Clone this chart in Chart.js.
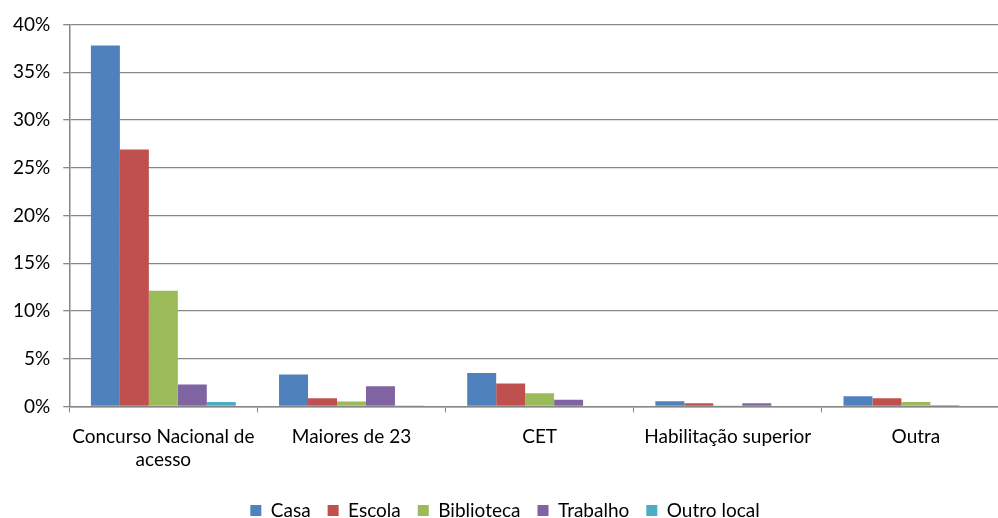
<!DOCTYPE html>
<html>
<head>
<meta charset="utf-8">
<script src="https://cdn.jsdelivr.net/npm/chart.js@4"></script>
<style>
html,body{margin:0;overflow:hidden;background:#fff;height:518px;}
#wrap{width:1012px;height:525px;}
</style>
</head>
<body>
<div id="wrap"><canvas id="mainChart" width="1012" height="525"></canvas></div>
<script>
let categories = [["Concurso Nacional de","acesso"],"Maiores de 23","CET","Habilitação superior","Outra"];
let casa = [37.8, 3.35, 3.5, 0.55, 1.05];
let escola = [26.9, 0.85, 2.4, 0.32, 0.85];
let biblioteca = [12.1, 0.52, 1.38, 0.1, 0.45];
let trabalho = [2.3, 2.1, 0.7, 0.32, 0.13];
let outroLocal = [0.45, 0.1, 0, 0, 0];
let yTicks = [0, 5, 10, 15, 20, 25, 30, 35, 40];

Chart.defaults.font.family = "Lato, 'Open Sans', sans-serif";
Chart.defaults.font.size = 19;
Chart.defaults.color = "#000";

let mainChart = new Chart(document.getElementById("mainChart"), {
type: "bar",
data: {
labels: categories,
datasets: [
{label:"Casa", data:casa, backgroundColor:"#4F81BD"},
{label:"Escola", data:escola, backgroundColor:"#C0504D"},
{label:"Biblioteca", data:biblioteca, backgroundColor:"#9BBB59"},
{label:"Trabalho", data:trabalho, backgroundColor:"#8064A2"},
{label:"Outro local", data:outroLocal, backgroundColor:"#4BACC6"}
]
},
options: {
responsive:false,
animation:false,
layout:{padding:{left:0, top:11, right:2, bottom:-5}},
datasets:{bar:{categoryPercentage:0.77, barPercentage:1}},
plugins:{
legend:{
position:"bottom",
labels:{boxWidth:11, boxHeight:11, padding:17, color:"#000", font:{size:19}}
},
tooltip:{enabled:false}
},
scales:{
x:{
grid:{display:true, drawOnChartArea:false, drawTicks:true, tickLength:6, color:"#868686", offset:true},
border:{color:"#868686", width:1.5},
ticks:{padding:13, maxRotation:0, autoSkip:false}
},
y:{
min:0, max:40,
afterBuildTicks: axis => { axis.ticks = yTicks.map(v => ({value:v})); },
grid:{color:"#868686", lineWidth:1.3, tickLength:6},
border:{color:"#868686", width:1.5},
ticks:{padding:13, callback: v => v + "%"}
}
}
}
});
</script>
</body>
</html>
